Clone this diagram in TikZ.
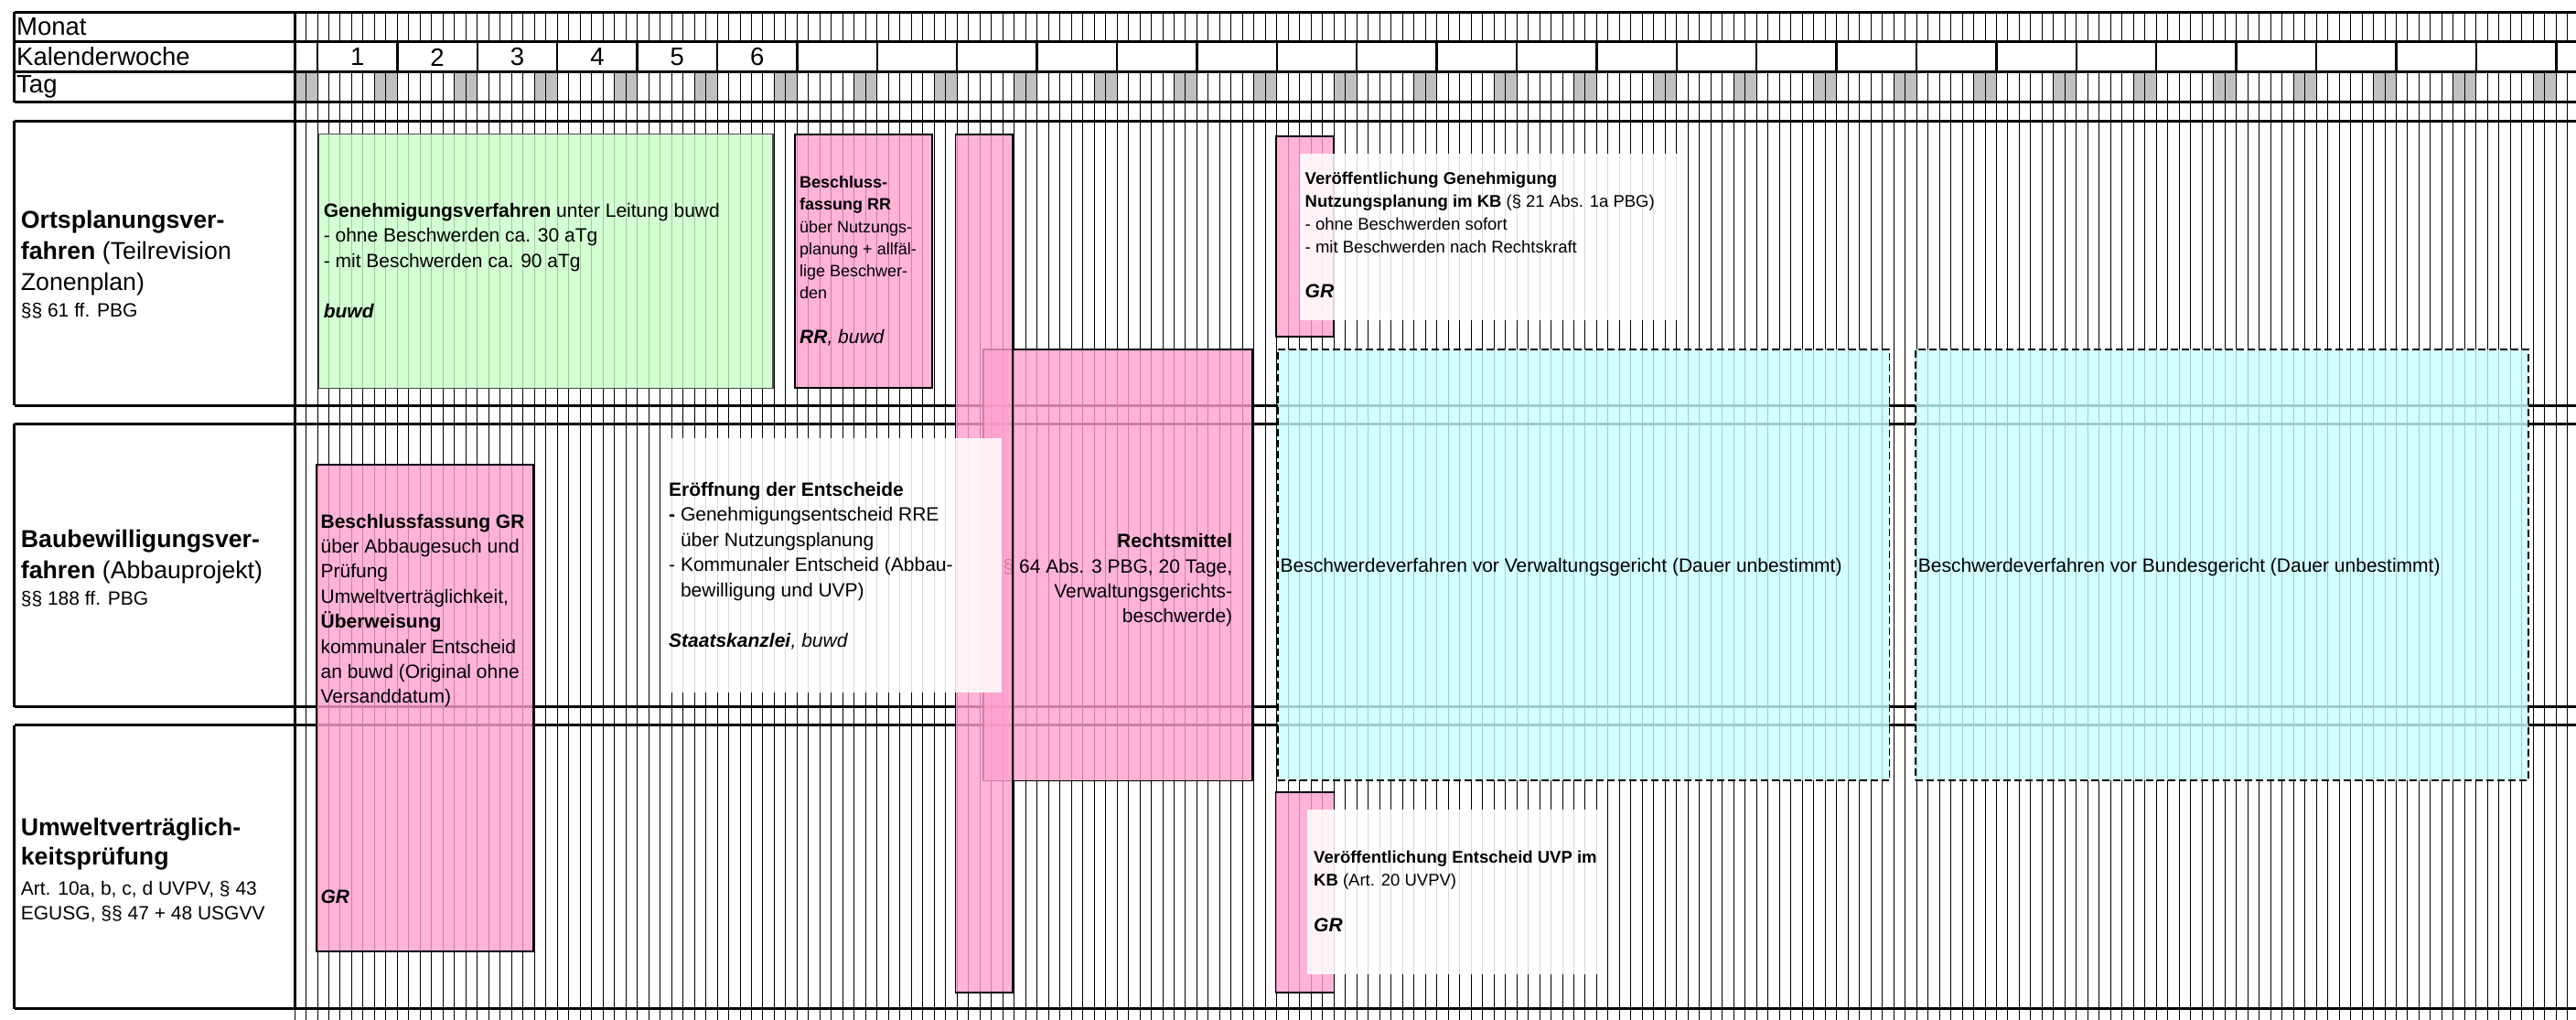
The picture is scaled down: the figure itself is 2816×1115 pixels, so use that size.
\documentclass[tikz,border=0pt]{standalone}
\usepackage{fontspec}
\setmainfont{Liberation Sans}
\usetikzlibrary{positioning}

\definecolor{pinkfill}{RGB}{255,160,205}
\definecolor{greenfill}{RGB}{200,255,200}
\definecolor{cyanfill}{RGB}{200,255,255}
\definecolor{wkendgray}{RGB}{192,192,192}

\begin{document}
\begin{tikzpicture}[x=1pt, y=-1pt,
            dayline/.style={line width=0.9pt},
            weekline/.style={line width=2.5pt},
            rowline/.style={line width=3pt},
            pinkbox/.style={draw, line width=1.8pt, fill=pinkfill, fill opacity=0.8, anchor=north west, inner sep=0pt, outer sep=0pt},
            greenbox/.style={draw=black!70, line width=1.4pt, fill=greenfill, fill opacity=0.8, anchor=north west, inner sep=0pt, outer sep=0pt},
            cyanbox/.style={draw, dash pattern=on 8pt off 4pt, line width=1.8pt, fill=cyanfill, fill opacity=0.8, anchor=north west, inner sep=0pt, outer sep=0pt},
            notebox/.style={fill=white, fill opacity=0.85, anchor=north west, inner sep=0pt, outer sep=0pt},
            headtext/.style={anchor=west, inner sep=0pt, font=\fontsize{27.5}{33}\selectfont},
            rowtitle/.style={anchor=west, inner sep=0pt, align=left, font=\fontsize{26.7}{34}\selectfont},
            boxtext/.style={anchor=west, inner sep=0pt, align=left, font=\fontsize{21}{27.4}\selectfont},
            smalltext/.style={anchor=west, inner sep=0pt, align=left, font=\fontsize{18.5}{24.5}\selectfont}
        ]
        \useasboundingbox (0,0) rectangle (2816,1115);

        % Wochenende im Tagesraster
        \foreach \w in {0,...,28}
            \fill[wkendgray] ({322+7*\w*12.486},79) rectangle ++(24.972,32.7);

        % Tagesraster
        \foreach \d in {0,...,199} {
            \pgfmathsetmacro\dx{322+\d*12.486}
            \draw[dayline] (\dx,13.3) -- (\dx,45.7) (\dx,79) -- (\dx,1115);
        }

        % Kalenderwochen
        \foreach \w in {0,...,28}
            \draw[weekline] ({322+(2+7*\w)*12.486},45.7) -- ++(0,33.3);
        \foreach \k in {1,...,6}
            \node[headtext, anchor=center] (week\k) at ({347+(\k-0.5)*87.4},62.5) {\k};

        % Zeilen und Kopf
        \foreach \yy in {13.3,45.7,79,111.7,132.3,443.3,463.3,772.7,792.7,1102.7}
            \draw[rowline] (15.5,\yy) -- (2816,\yy);
        \draw[rowline] (15.5,13.3) -- (15.5,111.7) (15.5,132.3) -- (15.5,443.3)
            (15.5,463.3) -- (15.5,772.7) (15.5,792.7) -- (15.5,1102.7);
        \draw[rowline] (322.7,13.3) -- (322.7,1102.7);

        \node[headtext] (monat) at (18,29) {Monat};
        \node[headtext] (kw) at (18,62) {Kalenderwoche};
        \node[headtext] (tag) at (18,95) {Tag};

        \node[rowtitle] (ortsLabel) at (22.7,289) {\textbf{Ortsplanungsver-}\\\textbf{fahren} (Teilrevision\\Zonenplan)\\[-5pt]{\fontsize{21}{21}\selectfont §§ 61 ff. PBG}};
        \node[rowtitle] (bauLabel) at (22.7,621.4) {\textbf{Baubewilligungsver-}\\\textbf{fahren} (Abbauprojekt)\\[-5pt]{\fontsize{21}{21}\selectfont §§ 188 ff. PBG}};
        \node[rowtitle] (uvpLabel) at (22.7,951) {\textbf{Umweltverträglich-}\\[-1.7pt]\textbf{keitsprüfung}\\[-1.3pt]{\fontsize{21}{21}\selectfont Art. 10a, b, c, d UVPV, § 43}\\[-7pt]{\fontsize{21}{21}\selectfont EGUSG, §§ 47 + 48 USGVV}};

        % Verfahrensschritte
        \node[greenbox, minimum width=496.5pt, minimum height=277.6pt] (genBox) at (348.5,146.7) {};
        \node[pinkbox, minimum width=150.6pt, minimum height=277.6pt] (rrBox) at (868.7,146.7) {};

        \node[pinkbox, minimum width=294pt, minimum height=471.8pt] (rmBox) at (1075,381.7) {};
        \node[boxtext, anchor=east, align=right, font=\fontsize{21}{27.2}\selectfont] (rmText) at (1347.4,634.3) {\textbf{Rechtsmittel}\\§ 64 Abs. 3 PBG, 20 Tage,\\Verwaltungsgerichts-\\beschwerde)};

        \node[pinkbox, minimum width=62.5pt, minimum height=938.3pt] (eroBar) at (1044.5,146.7) {};

        \node[cyanbox, minimum width=668.4pt, minimum height=471.6pt] (vgerBox) at (1397,381.7) {};
        \node[cyanbox, minimum width=669.3pt, minimum height=471.6pt] (bgerBox) at (2094.3,381.7) {};

        \node[pinkbox, minimum width=63pt, minimum height=218.4pt] (vgBox) at (1395,149.3) {};
        \node[pinkbox, minimum width=236.7pt, minimum height=531.7pt] (bgrBox) at (346,508.3) {};
        \node[pinkbox, minimum width=64pt, minimum height=219pt] (vuBox) at (1394.5,866) {};

        % Hinweisfelder
        \node[notebox, minimum width=423.1pt, minimum height=181.7pt] (vgNote) at (1420.7,168.3) {};
        \node[notebox, minimum width=372.5pt, minimum height=277.4pt] (eroNote) at (722,479.3) {};
        \node[notebox, minimum width=316.5pt, minimum height=180pt] (vuNote) at (1429.3,885) {};

        % Texte
        \node[boxtext, font=\fontsize{21}{27.5}\selectfont] (genText) at (353.6,284.7) {\textbf{Genehmigungsverfahren} unter Leitung buwd\\- ohne Beschwerden ca. 30 aTg\\- mit Beschwerden ca. 90 aTg\\ \\\textbf{\textit{buwd}}};
        \node[smalltext, font=\fontsize{18}{24.3}\selectfont] (rrText) at (874,285.3) {\textbf{Beschluss-}\\\textbf{fassung RR}\\über Nutzungs-\\planung + allfäl-\\lige Beschwer-\\den\\ \\{\fontsize{21}{24}\selectfont\textbf{\textit{RR}}\textit{, buwd}}};
        \node[smalltext, font=\fontsize{18.5}{24.8}\selectfont] (vgText) at (1426.5,257) {\textbf{Veröffentlichung Genehmigung}\\\textbf{Nutzungsplanung im KB} (§ 21 Abs. 1a PBG)\\- ohne Beschwerden sofort\\- mit Beschwerden nach Rechtskraft\\ \\{\fontsize{21}{24}\selectfont\textbf{\textit{GR}}}};
        \node[boxtext, font=\fontsize{21}{27.5}\selectfont] (eroText) at (731,618.5) {\textbf{Eröffnung der Entscheide}\\\textbf{-} Genehmigungsentscheid RRE\\\hspace*{12.8pt}über Nutzungsplanung\\- Kommunaler Entscheid (Abbau-\\\hspace*{12.8pt}bewilligung und UVP)\\ \\\textbf{\textit{Staatskanzlei}}\textit{, buwd}};
        \node[boxtext] (bgrText) at (350.4,667.5) {\textbf{Beschlussfassung GR}\\über Abbaugesuch und\\Prüfung\\Umweltverträglichkeit,\\\textbf{Überweisung}\\kommunaler Entscheid\\an buwd (Original ohne\\Versanddatum)};
        \node[boxtext] (bgrRole) at (350.4,980) {\textbf{\textit{GR}}};
        \node[boxtext] (vgerText) at (1399.5,620) {Beschwerdeverfahren vor Verwaltungsgericht (Dauer unbestimmt)};
        \node[boxtext] (bgerText) at (2096.6,620) {Beschwerdeverfahren vor Bundesgericht (Dauer unbestimmt)};
        \node[smalltext, font=\fontsize{18.5}{25}\selectfont] (vuText) at (1436,974) {\textbf{Veröffentlichung Entscheid UVP im}\\\textbf{KB} (Art. 20 UVPV)\\ \\{\fontsize{21}{24}\selectfont\textbf{\textit{GR}}}};

    \end{tikzpicture}
\end{document}
